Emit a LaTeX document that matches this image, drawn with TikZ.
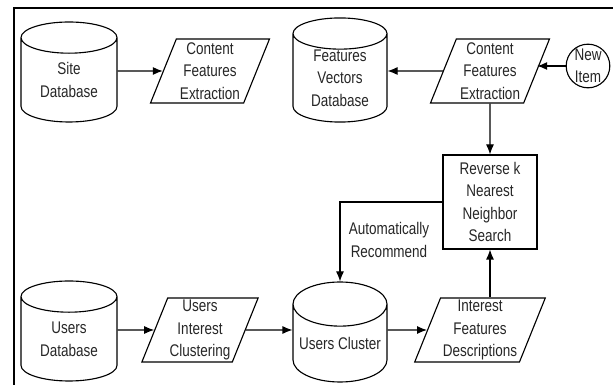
\documentclass[tikz,border=0pt]{standalone}
\usepackage{fontspec}
\setmainfont{Liberation Sans}[FakeStretch=0.8]
\usetikzlibrary{shapes,positioning,arrows.meta}
\tikzstyle{dbase}=[draw,cylinder,shape border rotate=90,aspect=0.54,anchor=shape center,
minimum width=2.4cm,minimum height=2.5cm,align=center,inner sep=0pt]
\tikzstyle{proc}=[draw,trapezium,trapezium left angle=68,trapezium right
angle=112,minimum height=1.6cm,minimum width=2.25cm,align=center,inner sep=0pt]

\begin{document}
\begin{tikzpicture}[every node/.style={font=\fontsize{12}{16}\selectfont,text=black!85},
    line width=0.8pt,>={Latex[length=2.5mm,width=2mm]}]
        \useasboundingbox (0,0) rectangle (15.325,-9.625);
        \draw (0.35,-9.625) |- (15.325,-0.2);

        \node[dbase] at (1.725,-1.8) (site) {Site\\Database};
        \node[proc] at (5.25,-1.775) (cfe) {Content\\Features\\Extraction};
        \node[dbase,minimum width=2.35cm] at (8.5,-1.75) (fvd) {Features\\Vectors\\Database};
        \node[proc] at (12.25,-1.775) (cfenew) {Content\\Features\\Extraction};
        \node[draw,circle,minimum size=1cm,inner sep=0pt,align=center] at (14.7,-1.65) (new) {New\\Item};

        \node[draw,minimum size=2.35cm,align=center,inner sep=0pt] at (12.25,-5.05) (rknn) {Reverse k\\Nearest\\Neighbor\\Search};
        \node[align=center] at (9.725,-6.0) (auto) {Automatically\\Recommend};

        \node[dbase] at (1.725,-8.275) (udb) {Users\\Database};
        \node[proc] at (5.0,-8.25) (uic) {Users\\Interest\\Clustering};
        \node[dbase,minimum width=2.35cm] at (8.5,-8.3) (ucl) {Users Cluster};
        \node[proc] at (12.0,-8.25) (ifd) {Interest\\Features\\Descriptions};

        \draw[->] (site.east |- cfe) -- (cfe);
        \draw[->] (cfenew) -- (fvd.east |- cfenew);
        \draw[->] (new) -- (cfenew.east |- new);
        \draw[->] (cfenew) -- (rknn);
        \draw[->] (rknn) -| (ucl);
        \draw[->] (udb.east |- uic) -- (uic);
        \draw[->] (uic) -- (ucl.west |- uic);
        \draw[->] (ucl.east |- ifd) -- (ifd);
        \draw[->] (rknn.south |- ifd.north) -- (rknn.south);
      \end{tikzpicture}
\end{document}
